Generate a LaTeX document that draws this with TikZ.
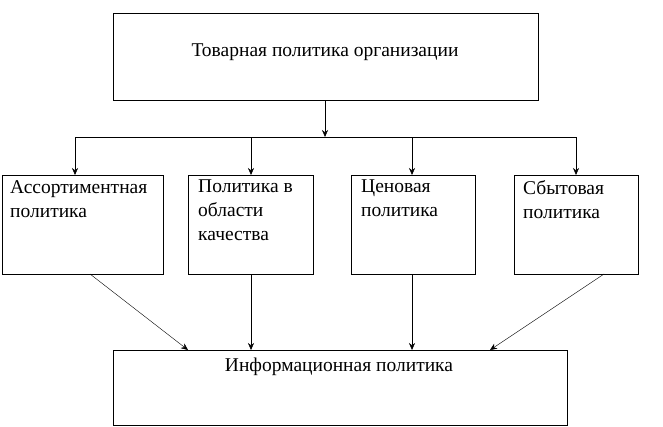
\documentclass[tikz,border=0pt]{standalone}
\usepackage{fontspec}
\usetikzlibrary{arrows.meta}
\setmainfont{Liberation Serif}
\begin{document}
\begin{tikzpicture}[x=1pt,y=-1pt,font=\fontsize{19.5}{24}\selectfont,
  box/.style={draw,thick},
  arr/.style={-{Stealth[length=7pt,width=6pt]}}]
\useasboundingbox (0,0) rectangle (663,426);
\draw[box] (113,13) rectangle (538,100);
\node (t) at (325,52) {Товарная политика организации};
\coordinate (tb) at (325,100);
\coordinate (j) at (325,137);
\draw[box] (2,175) rectangle (163,274);
\draw[box] (188,175) rectangle (313,274);
\draw[box] (351,175) rectangle (475,274);
\draw[box] (514,175) rectangle (638,274);
\node[anchor=north west,align=left,inner sep=0pt] (a) at (10,180) {Ассортиментная\\политика};
\node[anchor=north west,align=left,inner sep=0pt] (b) at (198,180) {Политика в\\области\\качества};
\node[anchor=north west,align=left,inner sep=0pt] (c) at (361,180) {Ценовая\\политика};
\node[anchor=north west,align=left,inner sep=0pt] (d) at (523,180) {Сбытовая\\политика};
\draw[box] (113,350) rectangle (567,425);
\node (i) at (339,367) {Информационная политика};
\draw[arr] (tb) -- (j);
\draw (75,137) -- (576,137);
\foreach \x in {75,251,412,576} \draw[arr] (\x,137) -- (\x,175);
\draw[arr] (90,274) -- (188,350);
\draw[arr] (251,274) -- (251,350);
\draw[arr] (412,274) -- (412,350);
\draw[arr] (604,274) -- (490,350);
\end{tikzpicture}
\end{document}
